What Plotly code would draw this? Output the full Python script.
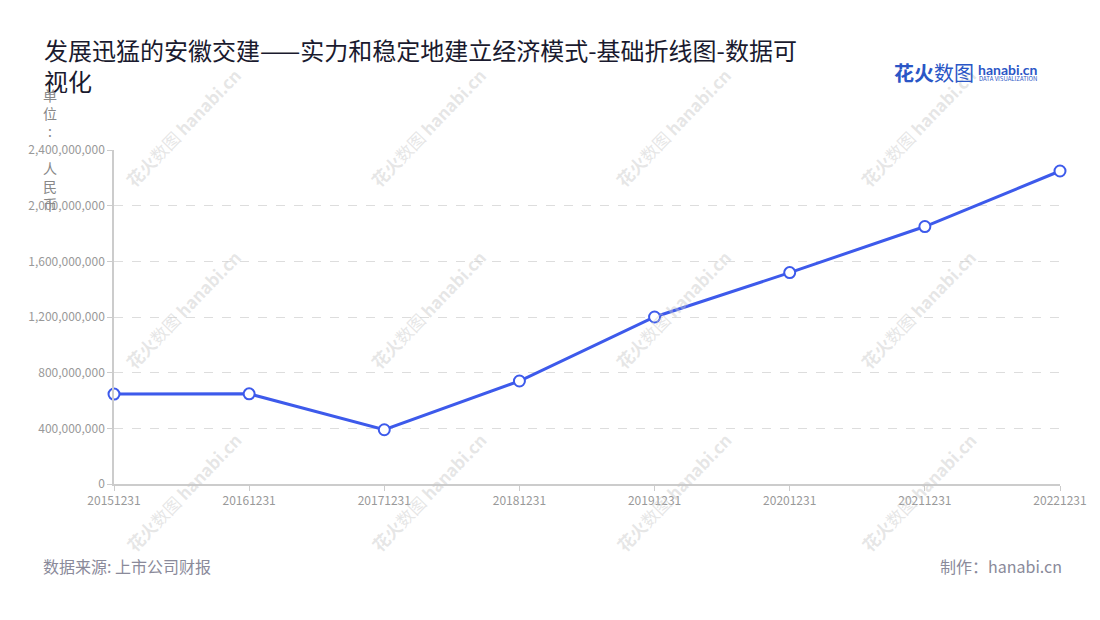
import plotly.graph_objects as go

# 安徽交建 营业收入 (单位: 人民币)
dates = ["20151231", "20161231", "20171231", "20181231",
         "20191231", "20201231", "20211231", "20221231"]
values = [646000000, 648000000, 390000000, 740000000,
          1200000000, 1519000000, 1850000000, 2249000000]

y_ticks = [0, 400000000, 800000000, 1200000000, 1600000000, 2000000000, 2400000000]

FONT = "Noto Sans CJK SC, Noto Sans, sans-serif"
BLUE = "#3d5aeb"

fig = go.Figure()
fig.add_trace(go.Scatter(
    x=dates, y=values, mode="lines+markers",
    line=dict(color=BLUE, width=3),
    marker=dict(size=11, color="white", line=dict(color=BLUE, width=2)),
    cliponaxis=False, showlegend=False,
))

# the page body adds 8px, so the figure is 8px smaller than the window
fig.update_layout(
    width=1092, height=612,
    margin=dict(l=106, r=40, t=142, b=136),
    paper_bgcolor="white", plot_bgcolor="white",
    font=dict(family=FONT, color="#999999", size=12),
    title=dict(text="发展迅猛的安徽交建——实力和稳定地建立经济模式-基础折线图-数据可<br>视化",
               x=0.033, xanchor="left", y=0.915, yanchor="top",
               font=dict(size=24, color="#1a1a2e", family=FONT)),
)

fig.update_xaxes(
    type="category", range=[0, 7], showgrid=False,
    showline=True, linecolor="#cccccc", linewidth=1.5,
    ticks="outside", ticklen=5, tickcolor="#cccccc",
    tickfont=dict(size=12, color="#999999"),
)
fig.update_yaxes(
    range=[0, 2400000000], tickvals=y_ticks, tickformat=",d",
    showgrid=True, gridcolor="#dddddd", griddash="dash", gridwidth=1,
    showline=True, linecolor="#cccccc", linewidth=1.5,
    ticks="outside", ticklen=5, tickcolor="#cccccc",
    tickfont=dict(size=12, color="#999999"), zeroline=False,
)

# 水印
for wx in [0.073, 0.332, 0.591, 0.850]:
    for wy in [1.066, 0.521, -0.024]:
        fig.add_annotation(
            text="<b>花火</b>数图 <b>hanabi.cn</b>", xref="paper", yref="paper",
            x=wx, y=wy, xanchor="center", yanchor="middle",
            showarrow=False, textangle=-46,
            font=dict(size=17, color="rgba(200,200,200,0.45)"),
        )

# y 轴单位 (竖排)
fig.add_annotation(
    text="单<br>位<br>:<br> <br>人<br>民<br>币", xref="paper", yref="paper",
    x=-0.0677, y=1.2, xanchor="center", yanchor="top", showarrow=False,
    font=dict(size=14, color="#888888"), align="center",
)

# logo
fig.add_annotation(
    text="<b>花火</b>数图", xref="paper", yref="paper", x=0.8225, y=1.2335,
    xanchor="left", yanchor="middle", showarrow=False,
    font=dict(size=20, color="#2a56c6"),
)
fig.add_annotation(
    text="<b>hanabi.cn</b>", xref="paper", yref="paper", x=0.9115, y=1.2425,
    xanchor="left", yanchor="middle", showarrow=False,
    font=dict(size=14, color="#2a56c6", family="Lato, sans-serif"),
)
fig.add_annotation(
    text="DATA VISUALIZATION", xref="paper", yref="paper", x=0.9125, y=1.2126,
    xanchor="left", yanchor="middle", showarrow=False,
    font=dict(size=6, color="#2a56c6"),
)

# 底部说明
fig.add_annotation(
    text="数据来源: 上市公司财报", xref="paper", yref="paper", x=-0.0772, y=-0.2455,
    xanchor="left", yanchor="middle", showarrow=False,
    font=dict(size=16, color="#8a8a9a"),
)
fig.add_annotation(
    text="制作：hanabi.cn", xref="paper", yref="paper", x=1.0045, y=-0.2455,
    xanchor="right", yanchor="middle", showarrow=False,
    font=dict(size=16, color="#8a8a9a"),
)

fig.write_html("out.html")
